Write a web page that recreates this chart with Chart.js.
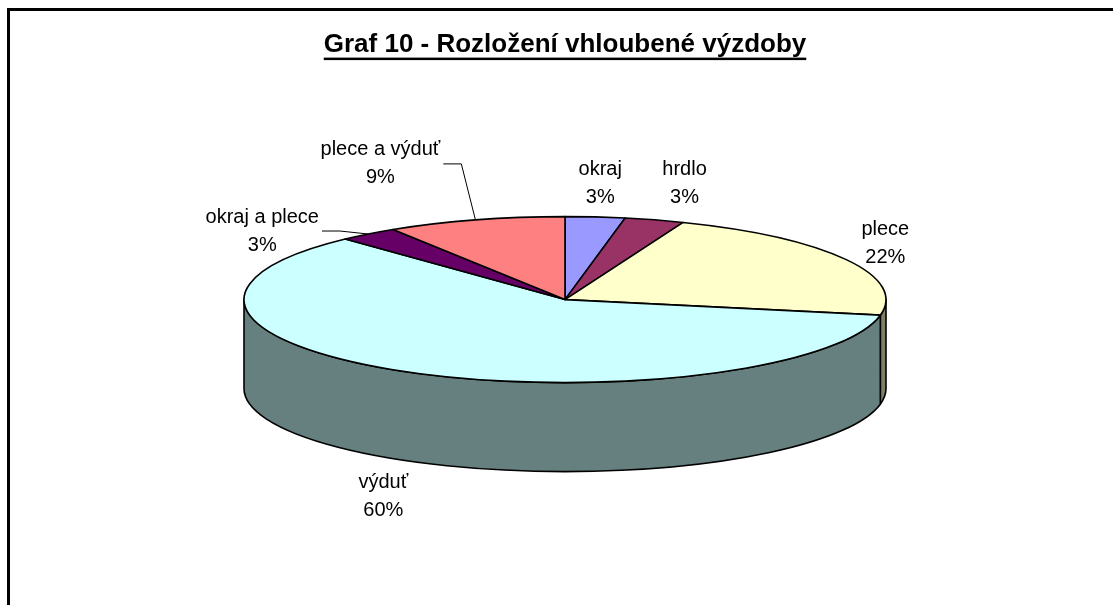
<!DOCTYPE html>
<html>
<head>
<meta charset="utf-8">
<script src="https://cdn.jsdelivr.net/npm/chart.js@4.4.1/dist/chart.umd.min.js"></script>
<style>
  html, body { margin: 0; padding: 0; background: #fff; overflow: hidden; }
  canvas { display: block; }
</style>
</head>
<body>
<canvas id="graf_vyzdoba" width="1113" height="605"></canvas>
<script>
const kategorie = ['okraj', 'hrdlo', 'plece', 'výduť', 'okraj a plece', 'plece a výduť'];
const podily = [3, 3, 22, 60, 3, 9];
const barvy = ['#9999FF', '#993366', '#FFFFCC', '#CCFFFF', '#660066', '#FF8080'];

const NAKLON = 83 / 321;   // zploštění elipsy (3D pohled)
const HLOUBKA = 89;        // výška boku koláče
const PISMO = 'Arial, "Liberation Sans", sans-serif';
// posun popisku od okraje výseče, cara = vodicí čára
const umisteniPopisku = [
    { dx: 5, dy: -33, cara: false },
    { dx: 30, dy: -36, cara: false },
    { dx: 39, dy: -16, cara: false },
    { dx: -27, dy: 35, cara: false },
    { dx: -106, dy: -3, cara: true },
    { dx: -95, dy: -56, cara: true },
];

function ztmavit(hex) {
    const n = parseInt(hex.slice(1), 16);
    const r = (n >> 16) >> 1, g = ((n >> 8) & 255) >> 1, b = (n & 255) >> 1;
    return `rgb(${r},${g},${b})`;
}

const kolac3d = {
    id: 'kolac3d',
    beforeDraw(chart) {
        const ctx = chart.ctx;
        ctx.save();
        ctx.fillStyle = '#fff';
        ctx.fillRect(0, 0, chart.width, chart.height);
        // rámeček grafu
        ctx.fillStyle = '#000';
        ctx.fillRect(7, 8, chart.width, 3);
        ctx.fillRect(7, 8, 3, chart.height);
        ctx.restore();
    },
    beforeDatasetsDraw(chart) {
        const ctx = chart.ctx;
        const oblouky = chart.getDatasetMeta(0).data;
        ctx.save();
        ctx.lineJoin = 'round';
        ctx.strokeStyle = '#000';
        ctx.lineWidth = 1.6;

        // boky (jen přední polovina je vidět)
        oblouky.forEach(arc => {
            const cx = arc.x, cy = arc.y, rx = arc.outerRadius, ry = rx * NAKLON;
            const a0 = Math.max(arc.startAngle, 0);
            const a1 = Math.min(arc.endAngle, Math.PI);
            if (a1 <= a0) return;
            ctx.beginPath();
            ctx.ellipse(cx, cy, rx, ry, 0, a0, a1);
            ctx.lineTo(cx + rx * Math.cos(a1), cy + ry * Math.sin(a1) + HLOUBKA);
            ctx.ellipse(cx, cy + HLOUBKA, rx, ry, 0, a1, a0, true);
            ctx.closePath();
            ctx.fillStyle = ztmavit(arc.options.backgroundColor);
            ctx.fill();
            ctx.stroke();
        });

        // horní plocha
        oblouky.forEach(arc => {
            const cx = arc.x, cy = arc.y, rx = arc.outerRadius, ry = rx * NAKLON;
            ctx.beginPath();
            ctx.moveTo(cx, cy);
            ctx.ellipse(cx, cy, rx, ry, 0, arc.startAngle, arc.endAngle);
            ctx.closePath();
            ctx.fillStyle = arc.options.backgroundColor;
            ctx.fill();
            ctx.stroke();
        });

        // popisky
        const celkem = podily.reduce((a, b) => a + b, 0);
        ctx.font = '20px ' + PISMO;
        ctx.textAlign = 'center';
        ctx.textBaseline = 'middle';
        oblouky.forEach((arc, i) => {
            const cx = arc.x, cy = arc.y, rx = arc.outerRadius, ry = rx * NAKLON;
            const stred = (arc.startAngle + arc.endAngle) / 2;
            const ax = cx + rx * Math.cos(stred);
            let ay = cy + ry * Math.sin(stred);
            if (Math.sin(stred) > 0) ay += HLOUBKA;
            const u = umisteniPopisku[i];
            const lx = ax + u.dx, ly = ay + u.dy;
            const radky = [kategorie[i], Math.round(podily[i] / celkem * 100) + '%'];
            ctx.fillStyle = '#000';
            ctx.fillText(radky[0], lx, ly - 14);
            ctx.fillText(radky[1], lx, ly + 14);
            if (u.cara) {
                const sirka = Math.max(...radky.map(t => ctx.measureText(t).width));
                const x0 = lx + sirka / 2 + 3;
                ctx.beginPath();
                ctx.moveTo(x0, ly);
                ctx.lineTo(x0 + 18, ly);
                ctx.lineTo(ax, ay);
                ctx.lineWidth = 1;
                ctx.stroke();
            }
        });
        ctx.restore();
        return false;
    },
    afterDraw(chart) {
        // podtržení nadpisu
        const ctx = chart.ctx;
        const blok = chart.titleBlock;
        const t = chart.options.plugins.title;
        ctx.save();
        ctx.font = 'bold ' + t.font.size + 'px ' + PISMO;
        const w = ctx.measureText(t.text).width;
        const stredX = (blok.left + blok.right) / 2;
        const y = blok.top + t.padding.top + t.font.size * 1.2 / 2 + t.font.size * 0.5;
        ctx.fillStyle = '#000';
        ctx.fillRect(stredX - w / 2, y, w, 2.5);
        ctx.restore();
    }
};

const ctx = document.getElementById('graf_vyzdoba').getContext('2d');
new Chart(ctx, {
    type: 'pie',
    data: {
        labels: kategorie,
        datasets: [{
            data: podily,
            backgroundColor: barvy,
            borderColor: '#000',
            borderWidth: 1,
        }],
    },
    options: {
        responsive: false,
        animation: false,
        devicePixelRatio: 1,
        radius: 321,
        layout: { padding: { left: 17, right: 0, top: 0, bottom: 76 } },
        plugins: {
            legend: { display: false },
            tooltip: { enabled: false },
            title: {
                display: true,
                text: 'Graf 10 - Rozložení vhloubené výzdoby',
                color: '#000',
                font: { family: PISMO, size: 26, weight: 'bold' },
                padding: { top: 29, bottom: 10 },
            },
        },
    },
    plugins: [kolac3d],
});
</script>
</body>
</html>
